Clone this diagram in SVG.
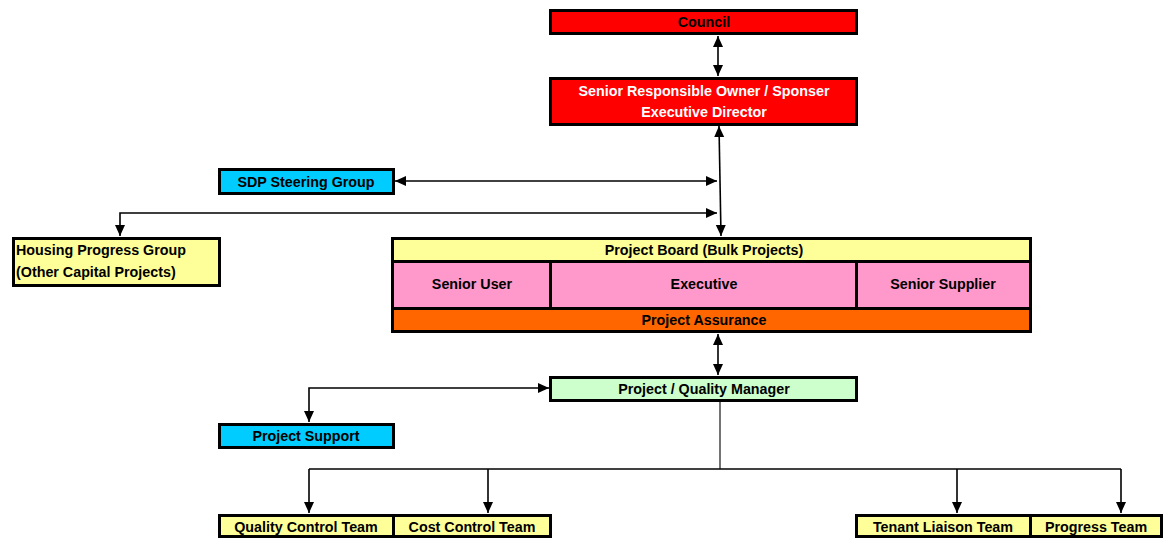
<svg xmlns="http://www.w3.org/2000/svg" width="1170" height="538" viewBox="0 0 1170 538">
<style>
.b{stroke:#000;stroke-width:3}
.t{font-family:"Liberation Sans",Arial,sans-serif;font-weight:bold;font-size:14.3px;fill:#000;text-anchor:middle;dominant-baseline:central}
.w{fill:#fff}
.l{text-anchor:start}
.c{fill:none;stroke:#000;stroke-width:1.6}
.thin{fill:none;stroke:#000;stroke-width:1.1}
</style>
<defs>
<marker id="ae" markerUnits="userSpaceOnUse" markerWidth="11" markerHeight="11" viewBox="0 0 11 11" refX="11" refY="5.5" orient="auto"><path d="M0,0.5 L11,5.5 L0,10.5 Z" fill="#000"/></marker>
<marker id="as" markerUnits="userSpaceOnUse" markerWidth="11" markerHeight="11" viewBox="0 0 11 11" refX="0" refY="5.5" orient="auto"><path d="M11,0.5 L0,5.5 L11,10.5 Z" fill="#000"/></marker>
</defs>
<rect width="1170" height="538" fill="#fff"/>
<g id="connectors">
<line class="c" x1="718" y1="36" x2="718" y2="76" marker-start="url(#as)" marker-end="url(#ae)"/>
<line class="c" x1="719" y1="126" x2="721" y2="236" marker-start="url(#as)" marker-end="url(#ae)"/>
<line class="c" x1="395" y1="181" x2="717" y2="181" marker-start="url(#as)" marker-end="url(#ae)"/>
<polyline class="c" points="717,213 120,213 120,236" marker-start="url(#as)" marker-end="url(#ae)"/>
<line class="c" x1="718" y1="334" x2="718" y2="375" marker-start="url(#as)" marker-end="url(#ae)"/>
<polyline class="c" points="549,388 309,388 309,422" marker-start="url(#as)" marker-end="url(#ae)"/>
<line class="thin" x1="720" y1="402" x2="720" y2="469"/>
<line class="c" x1="309" y1="469" x2="1121" y2="469"/>
<line class="c" x1="309" y1="469" x2="309" y2="513" marker-end="url(#ae)"/>
<line class="c" x1="488" y1="469" x2="488" y2="513" marker-end="url(#ae)"/>
<line class="c" x1="957" y1="469" x2="957" y2="513" marker-end="url(#ae)"/>
<line class="c" x1="1121" y1="469" x2="1121" y2="513" marker-end="url(#ae)"/>
</g>
<g id="council"><rect class="b" x="550.5" y="10.5" width="306" height="23" fill="#FF0000"/><text class="t" x="704" y="21.5">Council</text></g>
<g id="sro"><rect class="b" x="550.5" y="78.5" width="306" height="46" fill="#FF0000"/><text class="t w" x="704" y="91">Senior Responsible Owner / Sponser</text><text class="t w" x="704" y="112">Executive Director</text></g>
<g id="sdp"><rect class="b" x="219.5" y="169.5" width="174" height="24" fill="#00CCFF"/><text class="t" x="306" y="181.5">SDP Steering Group</text></g>
<g id="housing"><rect class="b" x="13.5" y="238.5" width="206" height="47" fill="#FFFF99"/><text class="t l" x="16" y="250">Housing Progress Group</text><text class="t l" x="16" y="272">(Other Capital Projects)</text></g>
<g id="board">
<rect class="b" x="392.5" y="238.5" width="638" height="23" fill="#FFFF99"/>
<rect class="b" x="392.5" y="261.5" width="158" height="47" fill="#FF99CC"/>
<rect class="b" x="550.5" y="261.5" width="306" height="47" fill="#FF99CC"/>
<rect class="b" x="856.5" y="261.5" width="174" height="47" fill="#FF99CC"/>
<rect class="b" x="392.5" y="308.5" width="638" height="23" fill="#FF6600"/>
<text class="t" x="704" y="250">Project Board (Bulk Projects)</text>
<text class="t" x="472" y="284">Senior User</text>
<text class="t" x="704" y="284">Executive</text>
<text class="t" x="943" y="284">Senior Supplier</text>
<text class="t" x="704" y="320">Project Assurance</text>
</g>
<g id="pqm"><rect class="b" x="550.5" y="377.5" width="306" height="23" fill="#CCFFCC"/><text class="t" x="704" y="389">Project / Quality Manager</text></g>
<g id="support"><rect class="b" x="219.5" y="424.5" width="174" height="23" fill="#00CCFF"/><text class="t" x="306" y="436">Project Support</text></g>
<g id="qct"><rect class="b" x="219.5" y="515.5" width="174" height="21" fill="#FFFF99"/><text class="t" x="306" y="527">Quality Control Team</text></g>
<g id="cct"><rect class="b" x="393.5" y="515.5" width="157" height="21" fill="#FFFF99"/><text class="t" x="472" y="527">Cost Control Team</text></g>
<g id="tlt"><rect class="b" x="856.5" y="515.5" width="174" height="21" fill="#FFFF99"/><text class="t" x="943" y="527">Tenant Liaison Team</text></g>
<g id="pt"><rect class="b" x="1030.5" y="515.5" width="131" height="21" fill="#FFFF99"/><text class="t" x="1096" y="527">Progress Team</text></g>
</svg>
